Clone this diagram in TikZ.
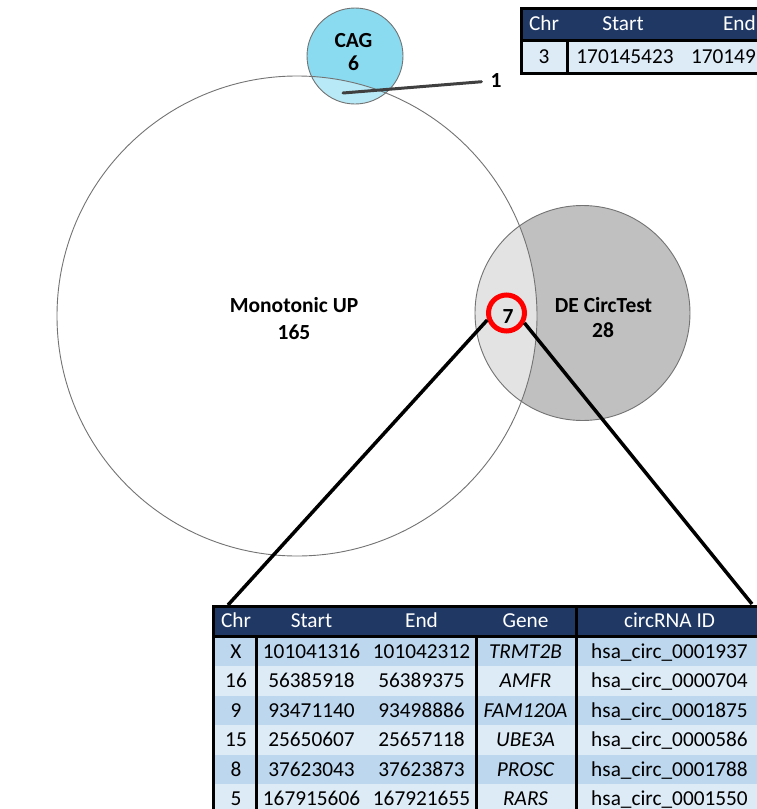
\documentclass[tikz,border=0pt]{standalone}
\usepackage{fontspec}
\setmainfont{Carlito}
\definecolor{navy}{HTML}{1F3864}
\definecolor{rowdark}{HTML}{BDD7EE}
\definecolor{rowlight}{HTML}{DDEBF7}
\definecolor{cagfill}{HTML}{8ADBF0}
\definecolor{cagint}{HTML}{B7E9F6}
\definecolor{defill}{HTML}{C0C0C0}
\definecolor{deint}{HTML}{E3E3E3}
\begin{document}
\begin{tikzpicture}[x=1pt,y=-1pt,
  venn/.style={circle, inner sep=0pt, draw=black!55, line width=0.9pt},
  vlabel/.style={inner sep=0pt, font=\bfseries\fontsize{21.5}{25}\selectfont, text height=13.8pt, text depth=0pt},
  tcell/.style={inner sep=0pt, font=\fontsize{21.3}{25}\selectfont, text height=13.5pt, text depth=0pt},
  hcell/.style={tcell, text=white},
  gcell/.style={tcell, font=\itshape\fontsize{21.3}{25}\selectfont},
  border/.style={line width=3pt, black},
  link/.style={line width=3.5pt, black},
  oneline/.style={line width=3pt, black!75, line cap=round},
]
\useasboundingbox (0,0) rectangle (757,809);
\clip (0,0) rectangle (757,809);

% ---------- Venn fills
\fill[white] (297,316) circle[radius=240pt];
\fill[defill] (582.5,313) circle[radius=107.5pt];
\begin{scope}
  \clip (297,316) circle[radius=240pt];
  \fill[deint] (582.5,313) circle[radius=107.5pt];
\end{scope}
\fill[cagfill] (355,56) circle[radius=48pt];
\begin{scope}
  \clip (297,316) circle[radius=240pt];
  \fill[cagint] (355,56) circle[radius=48pt];
\end{scope}
\node[venn, minimum size=480pt] (mono) at (297,316) {};
\node[venn, minimum size=215pt] (de) at (582.5,313) {};
\node[venn, minimum size=96pt] (cag) at (355,56) {};

% ---------- Venn labels
\node[vlabel] (cagl) at (353.5,41) {CAG};
\node[vlabel] (cagn) at (353.5,64) {6};
\node[vlabel] (monol) at (294,306) {Monotonic UP};
\node[vlabel] (monon) at (294,332.5) {165};
\node[vlabel] (del) at (603.5,306) {DE CircTest};
\node[vlabel] (den) at (603,331) {28};

% ---------- "1" pointer
\coordinate (onept) at (343,93);
\node[vlabel] (one) at (496,81) {1};
\draw[oneline, shorten >=9pt] (onept) -- (one.west);

% ---------- red circle and zoom lines
\node[circle, draw=red, line width=5pt, minimum size=36pt, inner sep=0pt] (seven) at (506.5,313) {};
\node[vlabel] (sevl) at (508,316.5) {7};
\coordinate (tl) at (228,605);
\coordinate (tr) at (752,604);
\draw[link] (seven.200) -- (tl);
\draw[link] (seven.331) -- (tr);

% ---------- top table
\fill[navy] (521,8) rectangle (800,40);
\fill[rowlight] (521,40) rectangle (800,73);
\node[hcell] (t-h1) at (544,24) {Chr};
\node[hcell] (t-h2) at (623,24) {Start};
\node[hcell, anchor=east] (t-h3) at (756,24) {End};
\node[tcell] (t-r1) at (544,56.5) {3};
\node[tcell] (t-r2) at (625,56.5) {170145423};
\node[tcell, anchor=east] (t-r3) at (756,56.5) {170149};
\draw[border] (521,8) rectangle (800,73);
\draw[border] (521,40) -- (800,40);
\draw[border] (567,40) -- (567,73);

% ---------- bottom table
\fill[navy] (213,606) rectangle (770,636.5);
\node[hcell] (b-h1) at (236,621) {Chr};
\node[hcell] (b-h2) at (311.5,621) {Start};
\node[hcell] (b-h3) at (421.5,621) {End};
\node[hcell] (b-h4) at (525.5,621) {Gene};
\node[hcell] (b-h5) at (669.5,621) {circRNA ID};
\foreach \a/\b/\c/\d/\e [count=\i] in {
  X/101041316/101042312/TRMT2B/0001937,
  16/56385918/56389375/AMFR/0000704,
  9/93471140/93498886/FAM120A/0001875,
  15/25650607/25657118/UBE3A/0000586,
  8/37623043/37623873/PROSC/0001788,
  5/167915606/167921655/RARS/0001550}{
  \pgfmathsetmacro\yt{636.5+29.5*(\i-1)}
  \pgfmathsetmacro\yc{\yt+14.75}
  \ifodd\i\def\rc{rowdark}\else\def\rc{rowlight}\fi
  \fill[\rc] (213,\yt) rectangle (770,\yt+29.5);
  \node[tcell] (b-\i-1) at (236,\yc) {\a};
  \node[tcell] (b-\i-2) at (311.5,\yc) {\b};
  \node[tcell] (b-\i-3) at (421.5,\yc) {\c};
  \node[gcell] (b-\i-4) at (525.5,\yc) {\d};
  \node[tcell] (b-\i-5) at (669.5,\yc) {hsa\_circ\_\e};
}
\draw[border] (770,606) -- (213,606) -- (213,815);
\draw[border] (213,636.5) -- (770,636.5);
\draw[border] (256,636.5) -- (256,815);
\draw[border] (476,636.5) -- (476,815);
\draw[border] (576,606) -- (576,815);
\end{tikzpicture}
\end{document}
